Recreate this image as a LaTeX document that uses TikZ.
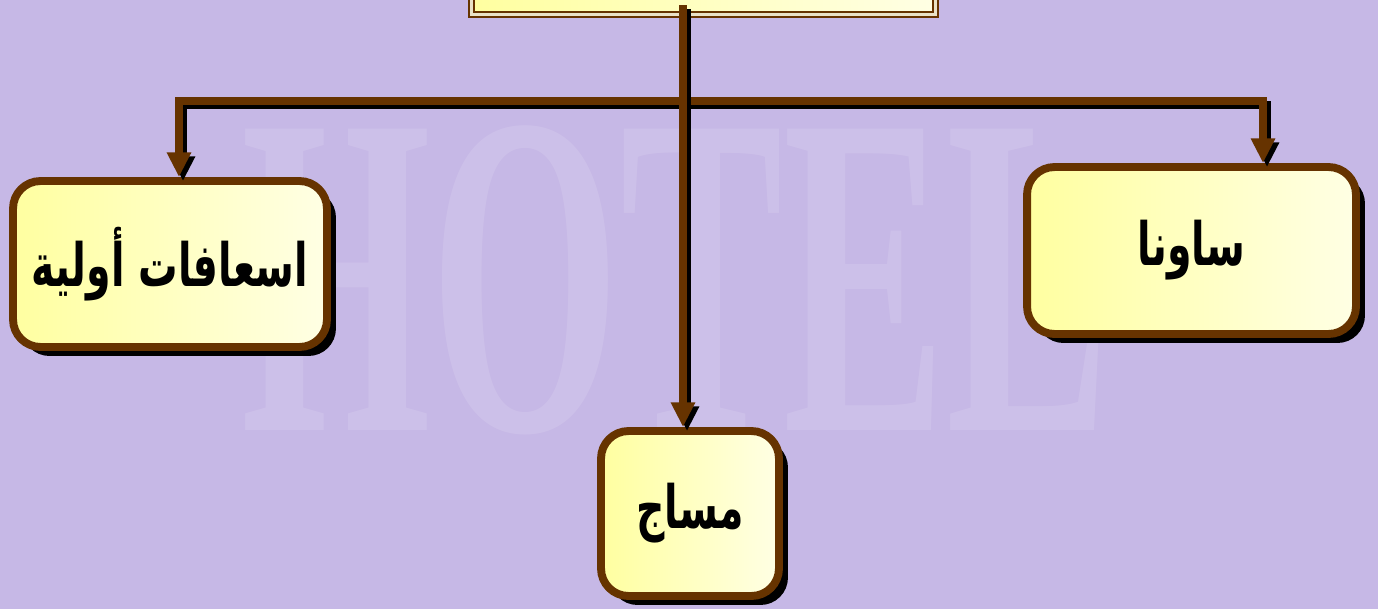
\documentclass[tikz,border=0pt]{standalone}
\usepackage{fontspec}
\usetikzlibrary{arrows.meta,shadows}
\TeXXeTstate=1
\newfontfamily\arabicfont[Script=Arabic]{DejaVu Sans}
\newfontfamily\signfont{Liberation Serif}
\definecolor{boxbrown}{RGB}{102,51,0}
\definecolor{wallpaper}{RGB}{198,184,230}
\definecolor{padleft}{RGB}{255,255,160}
\definecolor{padright}{RGB}{255,255,228}
\newcommand{\squeeze}[1]{\scalebox{0.66}[1]{\beginR #1\endR}}
\tikzset{
  service/.style={rectangle, rounded corners=0.55cm, draw=boxbrown, line width=4.5pt,
    left color=padleft, right color=padright, inner sep=0pt,
    drop shadow={shadow xshift=0.18cm, shadow yshift=-0.18cm, fill=black, opacity=1},
    font=\arabicfont\bfseries\fontsize{34}{38}\selectfont},
  link/.style={draw=boxbrown, line width=5pt, line join=miter},
  linkshadow/.style={link, draw=black, transform canvas={xshift=0.08cm, yshift=-0.08cm}}
}
\begin{document}
\begin{tikzpicture}[x=0.02cm, y=-0.02cm, >={Triangle[length=14pt,width=13pt]}]
  % ---------------------------------------------------------------- wallpaper
  \clip (0,0) rectangle (1378,609);
  \fill[wallpaper] (0,0) rectangle (1378,609);
  \node[text=white, text opacity=0.12, xscale=0.53, transform shape, inner sep=0pt]
    (sign) at (675,280) {\signfont\bfseries\fontsize{262}{262}\selectfont HOTEL};
  % ---------------------------------------------------------------- boxes
  \node[rectangle, draw=boxbrown, line width=1.2pt, double=padleft!60!boxbrown!35,
    double distance=2pt, left color=padleft, right color=padright,
    minimum width=9.28cm, minimum height=2cm, inner sep=0pt] (head) at (703.5,-35.5) {};
  \node[service, minimum width=6.28cm, minimum height=3.32cm] (aid) at (170,264)
    {\squeeze{اسعافات أولية}};
  \node[service, minimum width=6.58cm, minimum height=3.34cm] (sauna) at (1191.5,250.5)
    {\squeeze{ساونا}};
  \node[service, minimum width=3.56cm, minimum height=3.3cm] (massage) at (690,513.5)
    {\squeeze{مساج}};
  % ---------------------------------------------------------------- connectors
  \coordinate (trunk) at (683,5);
  \coordinate (barl) at (179,101);
  \coordinate (barr) at (1263,101);
  \draw[linkshadow, <->] (barl |- aid.north) -- (barl) -- (barr) -- (barr |- sauna.north);
  \draw[link, <->] (barl |- aid.north) -- (barl) -- (barr) -- (barr |- sauna.north);
  \draw[linkshadow, ->] (trunk) -- (trunk |- massage.north);
  \draw[link, ->] (trunk) -- (trunk |- massage.north);
\end{tikzpicture}
\end{document}
